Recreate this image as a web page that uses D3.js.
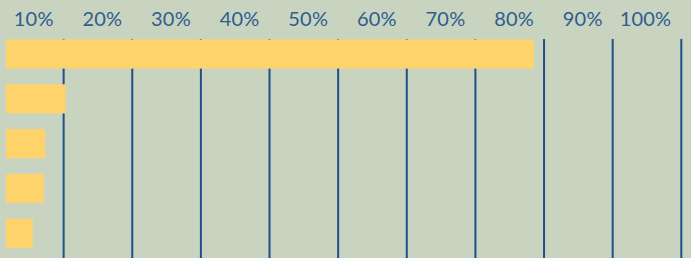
<!DOCTYPE html>
<html>
<head>
<meta charset="utf-8">
<script src="https://cdn.jsdelivr.net/npm/d3@7"></script>
<style>
  html, body { margin: 0; padding: 0; background: #c8d4c0; }
  svg { display: block; }
  .tick-label { font-family: Lato, "Open Sans", sans-serif; font-size: 20px; font-weight: 400; letter-spacing: 0.2px; fill: #2f5d8e; }
</style>
</head>
<body>
<div id="chart"></div>
<script>
// data
const categories = ["A", "B", "C", "D", "E"];
const values = [78.5, 10.3, 7.3, 7.1, 5.5];
const tickValues = [10, 20, 30, 40, 50, 60, 70, 80, 90, 100];
const tickLabels = ["10%", "20%", "30%", "40%", "50%", "60%", "70%", "80%", "90%", "100%"];

const width = 691;
const height = 258;
const barLeft = 6;

const svg = d3.select('#chart')
   .append('svg')
   .attr('width', width)
   .attr('height', height);

svg.append('rect')
   .attr('width', width)
   .attr('height', height)
   .attr('fill', '#c8d4c0');

const x = d3.scaleLinear()
   .domain([0, 100])
   .range([-5, 681.3]);

const y = d3.scaleBand()
   .domain(categories)
   .range([39.5, 247.8])
   .paddingInner(0.35)
   .paddingOuter(0);

// grid lines
svg.selectAll('.grid')
   .data(tickValues)
   .enter()
   .append('line')
   .attr('class', 'grid')
   .attr('x1', d => x(d))
   .attr('x2', d => x(d))
   .attr('y1', 39)
   .attr('y2', height)
   .attr('stroke', '#1f4f88')
   .attr('stroke-width', 2);

// labels
svg.selectAll('.tick-label')
   .data(tickValues)
   .enter()
   .append('text')
   .attr('class', 'tick-label')
   .attr('x', d => x(d) - 10)
   .attr('y', 26)
   .attr('text-anchor', 'end')
   .text((d, i) => tickLabels[i]);

// bars
svg.selectAll('.bar')
   .data(values)
   .enter()
   .append('rect')
   .attr('class', 'bar')
   .attr('x', barLeft)
   .attr('y', (d, i) => y(categories[i]))
   .attr('width', d => x(d) - barLeft)
   .attr('height', y.bandwidth())
   .attr('fill', '#ffd36b');
</script>
</body>
</html>
